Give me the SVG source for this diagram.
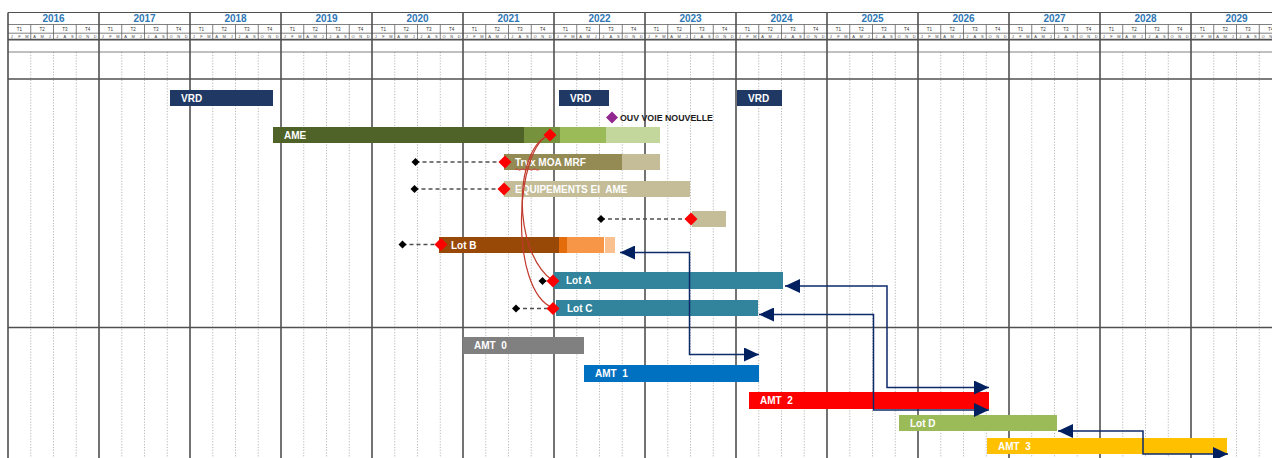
<svg xmlns="http://www.w3.org/2000/svg" xmlns:xlink="http://www.w3.org/1999/xlink" width="1272" height="458" viewBox="0 0 1272 458">
<style>
.yl{stroke:#505050;stroke-width:1.6}
.hl{stroke:#505050;stroke-width:1.2}
.hq{stroke:#606060;stroke-width:0.8}
.dq{stroke:#b8b8b8;stroke-width:1;stroke-dasharray:1.2 1.6}
.yr{font-family:"Liberation Sans",Arial,sans-serif;font-weight:bold;font-size:10px;fill:#2F77B5;text-anchor:middle}
.q{font-family:"Liberation Sans",Arial,sans-serif;font-size:4.5px;fill:#333;text-anchor:middle}
.m{font-family:"Liberation Sans",Arial,sans-serif;font-size:4px;fill:#444;text-anchor:middle}
.lb{font-family:"Liberation Sans",Arial,sans-serif;font-weight:bold;font-size:10px;fill:#ffffff}
.ms{font-family:"Liberation Sans",Arial,sans-serif;font-weight:bold;font-size:8.8px;fill:#1a1a1a}
.dash{fill:none;stroke:#505050;stroke-width:1.3;stroke-dasharray:4 3}
.dep{fill:none;stroke:#C0392B;stroke-width:1.2}
.nav{fill:none;stroke:#0D2A6B;stroke-width:1.5}
</style>
<defs>
<marker id="arr" markerUnits="userSpaceOnUse" markerWidth="15" markerHeight="14" viewBox="0 0 15 14" refX="15" refY="7" orient="auto-start-reverse">
<path d="M0,0 L15,7 L0,14 z" fill="#002060"/>
</marker>
<marker id="dB" markerUnits="userSpaceOnUse" markerWidth="9" markerHeight="9" viewBox="-4.5 -4.5 9 9" refX="0" refY="0" orient="0">
<path d="M0,-4 L4,0 L0,4 L-4,0 z" fill="#000"/>
</marker>
<marker id="dR" markerUnits="userSpaceOnUse" markerWidth="14" markerHeight="14" viewBox="-7 -7 14 14" refX="0" refY="0" orient="0">
<path d="M0,-6.5 L6.5,0 L0,6.5 L-6.5,0 z" fill="#FF0000"/>
</marker>
<g id="yh">
<line class="hq" x1="22.75" y1="24.5" x2="22.75" y2="39.5"/>
<line class="hq" x1="45.5" y1="24.5" x2="45.5" y2="39.5"/>
<line class="hq" x1="68.25" y1="24.5" x2="68.25" y2="39.5"/>
<text class="q" x="11.375" y="31">T1</text>
<text class="q" x="34.125" y="31">T2</text>
<text class="q" x="56.875" y="31">T3</text>
<text class="q" x="79.625" y="31">T4</text>
<text class="m" x="3.79" y="37.8">J</text>
<text class="m" x="11.375" y="37.8">F</text>
<text class="m" x="18.96" y="37.8">M</text>
<text class="m" x="26.54" y="37.8">A</text>
<text class="m" x="34.125" y="37.8">M</text>
<text class="m" x="41.71" y="37.8">J</text>
<text class="m" x="49.29" y="37.8">J</text>
<text class="m" x="56.875" y="37.8">A</text>
<text class="m" x="64.46" y="37.8">S</text>
<text class="m" x="72.04" y="37.8">O</text>
<text class="m" x="79.625" y="37.8">N</text>
<text class="m" x="87.21" y="37.8">D</text>
</g>
<g id="yq">
<line class="dq" x1="22.75" y1="52" x2="22.75" y2="458"/>
<line class="dq" x1="45.5" y1="52" x2="45.5" y2="458"/>
<line class="dq" x1="68.25" y1="52" x2="68.25" y2="458"/>
</g>
</defs>
<rect width="1272" height="458" fill="#ffffff"/>
<g id="grid">
<use href="#yq" x="8"/><use href="#yq" x="99"/><use href="#yq" x="190"/><use href="#yq" x="281"/><use href="#yq" x="372"/><use href="#yq" x="463"/><use href="#yq" x="554"/><use href="#yq" x="645"/><use href="#yq" x="736"/><use href="#yq" x="827"/><use href="#yq" x="918"/><use href="#yq" x="1009"/><use href="#yq" x="1100"/><use href="#yq" x="1191"/>
<use href="#yh" x="8"/><use href="#yh" x="99"/><use href="#yh" x="190"/><use href="#yh" x="281"/><use href="#yh" x="372"/><use href="#yh" x="463"/><use href="#yh" x="554"/><use href="#yh" x="645"/><use href="#yh" x="736"/><use href="#yh" x="827"/><use href="#yh" x="918"/><use href="#yh" x="1009"/><use href="#yh" x="1100"/><use href="#yh" x="1191"/>
<line class="hl" x1="8" y1="12.5" x2="1272" y2="12.5"/>
<line class="hq" x1="8" y1="24.5" x2="1272" y2="24.5"/>
<line class="hq" x1="8" y1="33.2" x2="1272" y2="33.2"/>
<line class="yl" x1="8" y1="39.6" x2="1272" y2="39.6"/>
<line class="hq" x1="8" y1="52" x2="1272" y2="52"/>
<line class="yl" x1="8" y1="79" x2="1272" y2="79"/>
<line class="yl" x1="8" y1="327.5" x2="1272" y2="327.5"/>
<line class="yl" x1="8" y1="12.5" x2="8" y2="458"/>
<line class="yl" x1="99" y1="12.5" x2="99" y2="458"/>
<line class="yl" x1="190" y1="12.5" x2="190" y2="458"/>
<line class="yl" x1="281" y1="12.5" x2="281" y2="458"/>
<line class="yl" x1="372" y1="12.5" x2="372" y2="458"/>
<line class="yl" x1="463" y1="12.5" x2="463" y2="458"/>
<line class="yl" x1="554" y1="12.5" x2="554" y2="458"/>
<line class="yl" x1="645" y1="12.5" x2="645" y2="458"/>
<line class="yl" x1="736" y1="12.5" x2="736" y2="458"/>
<line class="yl" x1="827" y1="12.5" x2="827" y2="458"/>
<line class="yl" x1="918" y1="12.5" x2="918" y2="458"/>
<line class="yl" x1="1009" y1="12.5" x2="1009" y2="458"/>
<line class="yl" x1="1100" y1="12.5" x2="1100" y2="458"/>
<line class="yl" x1="1191" y1="12.5" x2="1191" y2="458"/>
<text class="yr" x="53.5" y="21.8">2016</text>
<text class="yr" x="144.5" y="21.8">2017</text>
<text class="yr" x="235.5" y="21.8">2018</text>
<text class="yr" x="326.5" y="21.8">2019</text>
<text class="yr" x="417.5" y="21.8">2020</text>
<text class="yr" x="508.5" y="21.8">2021</text>
<text class="yr" x="599.5" y="21.8">2022</text>
<text class="yr" x="690.5" y="21.8">2023</text>
<text class="yr" x="781.5" y="21.8">2024</text>
<text class="yr" x="872.5" y="21.8">2025</text>
<text class="yr" x="963.5" y="21.8">2026</text>
<text class="yr" x="1054.5" y="21.8">2027</text>
<text class="yr" x="1145.5" y="21.8">2028</text>
<text class="yr" x="1236.5" y="21.8">2029</text>
</g>
<g id="vrd1"><rect x="170" y="90" width="103" height="16" fill="#1F3864"/><text class="lb" x="181" y="101.5">VRD</text></g>
<g id="vrd2"><rect x="559" y="90" width="50" height="16" fill="#1F3864"/><text class="lb" x="570" y="101.5">VRD</text></g>
<g id="vrd3"><rect x="737" y="90" width="45" height="16" fill="#1F3864"/><text class="lb" x="748" y="101.5">VRD</text></g>
<g id="ouv"><path d="M612,111.5 L618,117.5 L612,123.5 L606,117.5 z" fill="#92278F"/><text class="ms" x="620" y="120.8">OUV VOIE NOUVELLE</text></g>
<g id="ame">
<rect x="273" y="127" width="251" height="16" fill="#4F6228"/>
<rect x="524" y="127" width="36" height="16" fill="#76923C"/>
<rect x="560" y="127" width="46" height="16" fill="#9BBB59"/>
<rect x="606" y="127" width="54" height="16" fill="#C3D69B"/>
<text class="lb" x="284" y="138.5">AME</text>
</g>
<g id="trvx">
<rect x="504" y="154" width="118" height="16" fill="#948A54"/>
<rect x="622" y="154" width="38" height="16" fill="#C4BD97"/>
<text class="lb" x="515" y="165.5">Trvx MOA MRF</text>
<path d="M515,169.5 q1.5,-1.5 3,0 t3,0 t3,0 t3,0 t3,0 t3,0 t3,0 t3,0" fill="none" stroke="#E03030" stroke-width="0.8"/>
</g>
<g id="equip"><rect x="504" y="181" width="186" height="16" fill="#C4BD97"/><text class="lb" x="515" y="192.5" xml:space="preserve">EQUIPEMENTS EI  AME</text></g>
<g id="tache"><rect x="692" y="211" width="34" height="16" fill="#C4BD97"/></g>
<g id="lotb">
<rect x="439" y="237" width="120" height="16" fill="#984807"/>
<rect x="559" y="237" width="8" height="16" fill="#E46C0A"/>
<rect x="567" y="237" width="37" height="16" fill="#F79646"/>
<rect x="605" y="237" width="10" height="16" fill="#FAC090"/>
<text class="lb" x="451" y="248.5">Lot B</text>
</g>
<g id="lota"><rect x="554" y="272" width="229" height="17" fill="#31849B"/><text class="lb" x="566" y="284">Lot A</text></g>
<g id="lotc"><rect x="556" y="300" width="202" height="16" fill="#31849B"/><text class="lb" x="567" y="311.5">Lot C</text></g>
<g id="amt0"><rect x="463" y="337" width="121" height="17" fill="#808080"/><text class="lb" x="474" y="349" xml:space="preserve">AMT  0</text></g>
<g id="amt1"><rect x="584" y="365" width="175" height="17" fill="#0070C0"/><text class="lb" x="595" y="377" xml:space="preserve">AMT  1</text></g>
<g id="amt2"><rect x="749" y="392" width="240" height="17" fill="#FF0000"/><text class="lb" x="760" y="404" xml:space="preserve">AMT  2</text></g>
<g id="lotd"><rect x="899" y="415" width="158" height="16" fill="#9BBB59"/><text class="lb" x="910" y="426.5">Lot D</text></g>
<g id="amt3"><rect x="987" y="438" width="240" height="16" fill="#FFC000"/><text class="lb" x="998" y="449.5" xml:space="preserve">AMT  3</text></g>
<g id="connectors">
<path class="dash" d="M415.5,162 H505" marker-start="url(#dB)" marker-end="url(#dR)"/>
<path class="dash" d="M414.5,189 H504" marker-start="url(#dB)" marker-end="url(#dR)"/>
<path class="dash" d="M601,219 H691" marker-start="url(#dB)" marker-end="url(#dR)"/>
<path class="dash" d="M402.5,244.5 H441" marker-start="url(#dB)" marker-end="url(#dR)"/>
<path class="dep" d="M550,135 C515,145 510,250 553,281"/>
<path class="dep" d="M550,135 C515,145 508,290 553,308" marker-start="url(#dR)"/>
<path class="dash" d="M542.5,281 H553" marker-start="url(#dB)" marker-end="url(#dR)"/>
<path class="dash" d="M516,308.5 H553" marker-start="url(#dB)" marker-end="url(#dR)"/>
<path class="nav" d="M620,252.5 H689.5 V354.5 H759" marker-start="url(#arr)" marker-end="url(#arr)"/>
<path class="nav" d="M785,286 H887 V387.5 H989" marker-start="url(#arr)" marker-end="url(#arr)"/>
<path class="nav" d="M759,314.5 H873.5 V410 H989" marker-start="url(#arr)" marker-end="url(#arr)"/>
<path class="nav" d="M1058,431 H1143 V454 H1228" marker-start="url(#arr)" marker-end="url(#arr)"/>
</g>
</svg>
